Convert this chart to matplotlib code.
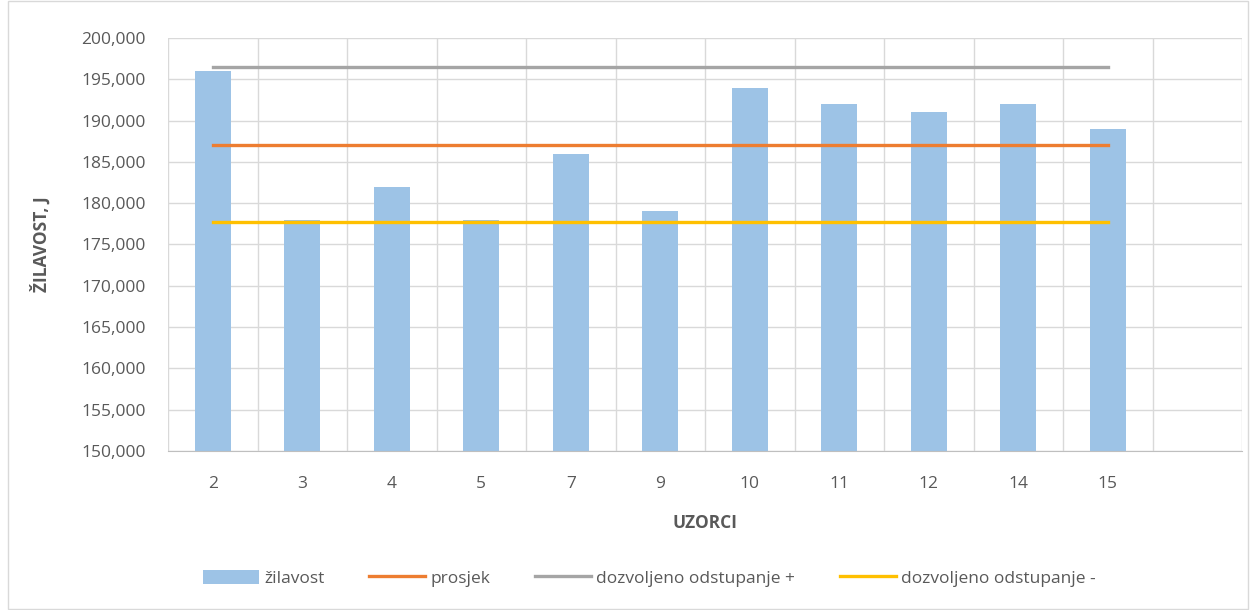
import numpy as np
import matplotlib.pyplot as plt
from matplotlib.patches import Rectangle

# data
uzorci = ["2", "3", "4", "5", "7", "9", "10", "11", "12", "14", "15"]
zilavost = [196000, 178000, 182000, 178000, 186000, 179000, 194000, 192000, 191000, 192000, 189000]
prosjek = [187091] * len(uzorci)
odst_plus = [196445] * len(uzorci)
odst_minus = [177736] * len(uzorci)
y_ticks = [150000, 155000, 160000, 165000, 170000, 175000, 180000, 185000, 190000, 195000, 200000]

plt.rcParams["font.family"] = ["Open Sans", "DejaVu Sans"]
txt = "#595959"

fig = plt.figure(figsize=(12.56, 6.10), dpi=100)
fig.add_artist(Rectangle((0.006, 0.002), 0.988, 0.996, transform=fig.transFigure,
                         fill=False, edgecolor="#d9d9d9", linewidth=1))
ax = fig.add_axes([0.1338, 0.2607, 0.8551, 0.677])

x = np.arange(len(uzorci))
bars = ax.bar(x, zilavost, width=0.4, color="#9dc3e6", zorder=2, label="žilavost")
l1, = ax.plot(x, prosjek, color="#ed7d31", lw=2.4, zorder=3, label="prosjek")
l2, = ax.plot(x, odst_plus, color="#a5a5a5", lw=2.4, zorder=3, label="dozvoljeno odstupanje +")
l3, = ax.plot(x, odst_minus, color="#ffc000", lw=2.4, zorder=3, label="dozvoljeno odstupanje -")

ax.set_xlim(-0.5, len(uzorci) + 0.5)
ax.set_ylim(150000, 200000)
ax.set_yticks(y_ticks)
ax.set_yticklabels([f"{v // 1000},000" for v in y_ticks])
ax.set_xticks(x)
ax.set_xticklabels(uzorci)
ax.set_xticks(np.arange(-0.5, len(uzorci) + 1), minor=True)

ax.grid(axis="y", color="#d9d9d9", lw=1, zorder=0)
ax.grid(axis="x", which="minor", color="#d9d9d9", lw=1, zorder=0)
ax.tick_params(axis="both", which="both", length=0, colors=txt, labelsize=12.5)
ax.tick_params(axis="x", pad=18)
ax.tick_params(axis="y", pad=16)
for s in ["top", "right", "left"]:
    ax.spines[s].set_visible(False)
ax.spines["bottom"].set_color("#bfbfbf")

ax.set_xlabel("UZORCI", fontsize=12.5, fontweight="bold", color=txt, labelpad=16)
ax.set_ylabel("ŽILAVOST, J", fontsize=12.5, fontweight="bold", color=txt, labelpad=22)

fig.legend([bars, l1, l2, l3],
           ["žilavost", "prosjek", "dozvoljeno odstupanje +", "dozvoljeno odstupanje -"],
           loc="center", bbox_to_anchor=(0.517, 0.052), ncol=4, frameon=False,
           fontsize=12.5, labelcolor=txt, handlelength=3.2, handletextpad=0.3,
           columnspacing=2.6, handleheight=0.9)

fig.savefig("out.png", dpi=100)
